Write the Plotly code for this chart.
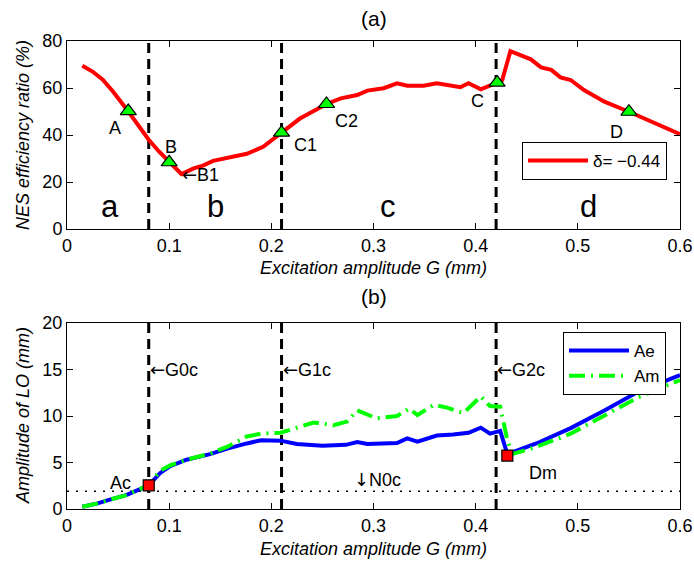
import plotly.graph_objects as go

# ---------------- data ----------------
# panel (a): NES efficiency ratio vs excitation amplitude
G_eff = [0.015, 0.025, 0.035, 0.045, 0.06, 0.07, 0.08, 0.09, 0.1, 0.112, 0.124, 0.133,
         0.143, 0.153, 0.163, 0.176, 0.192, 0.21, 0.228, 0.254, 0.268, 0.284, 0.294,
         0.31, 0.323, 0.333, 0.349, 0.362, 0.375, 0.385, 0.393, 0.405, 0.421, 0.426,
         0.434, 0.454, 0.464, 0.474, 0.483, 0.493, 0.506, 0.526, 0.55, 0.585, 0.6]
eff = [69.5, 67.0, 63.5, 58.5, 50.0, 44.0, 38.0, 33.0, 28.4, 23.4, 25.8, 27.0,
       29.0, 30.0, 31.0, 32.0, 35.0, 41.0, 47.0, 53.2, 55.6, 57.0, 58.9,
       59.9, 62.0, 61.0, 61.0, 62.0, 60.9, 60.3, 62.0, 59.4, 62.3, 63.4,
       75.7, 72.2, 68.8, 67.7, 64.5, 63.4, 59.1, 54.2, 49.9, 43.5, 40.4]

pt_labels = ["A", "B", "C1", "C2", "C", "D"]
pt_G = [0.06, 0.1, 0.21, 0.254, 0.421, 0.55]
pt_eff = [50.2, 28.4, 41.0, 53.2, 62.3, 49.9]
pt_lab_G = [0.047, 0.1017, 0.233, 0.274, 0.402, 0.538]
pt_lab_y = [42.8, 34.8, 35.7, 46.0, 54.6, 41.4]

region_labels = ["a", "b", "c", "d"]
region_G = [0.042, 0.145, 0.314, 0.51]
region_y = [9.4, 9.4, 9.4, 9.4]

B1_G, B1_y = 0.112, 23.4

# critical amplitudes (vertical dashed lines)
G_crit = [0.08, 0.21, 0.42]
G_crit_labels = ["G0c", "G1c", "G2c"]
G_crit_label_y = 15.0

# panel (b): amplitudes of LO
G_ae = [0.015, 0.03, 0.042, 0.058, 0.08, 0.091, 0.101, 0.117, 0.14, 0.157, 0.176, 0.19,
        0.209, 0.225, 0.25, 0.273, 0.284, 0.294, 0.323, 0.333, 0.343, 0.362, 0.378,
        0.393, 0.405, 0.414, 0.424, 0.431, 0.46, 0.493, 0.526, 0.559, 0.6]
ae = [0.25, 0.6, 1.0, 1.5, 2.55, 3.85, 4.6, 5.3, 5.9, 6.5, 7.05, 7.4,
      7.35, 7.0, 6.8, 6.9, 7.2, 7.0, 7.1, 7.6, 7.25, 7.9, 8.0,
      8.2, 8.75, 8.1, 8.4, 5.9, 7.07, 8.7, 10.6, 12.6, 14.4]

G_am = [0.015, 0.03, 0.042, 0.058, 0.08, 0.091, 0.101, 0.117, 0.14, 0.157, 0.176, 0.19,
        0.209, 0.235, 0.2415, 0.261, 0.274, 0.284, 0.303, 0.323, 0.335, 0.343, 0.359,
        0.372, 0.388, 0.405, 0.414, 0.424, 0.431, 0.436, 0.46, 0.493, 0.526, 0.559, 0.6]
am = [0.25, 0.6, 1.0, 1.5, 2.55, 4.1, 4.7, 5.3, 5.95, 6.7, 7.8, 8.1,
      8.2, 9.1, 9.3, 9.0, 9.4, 10.6, 9.75, 10.0, 10.8, 10.1, 11.2,
      10.9, 10.3, 12.1, 11.07, 11.0, 7.4, 5.9, 6.7, 8.1, 10.1, 12.0, 13.86]

sq_labels = ["Ac", "Dm"]
sq_G = [0.08, 0.431]
sq_A = [2.55, 5.75]
sq_lab_G = [0.052, 0.466]
sq_lab_y = [2.85, 3.85]

N0c = 1.9
N0c_label_G = 0.28

x_ticks = [0, 0.1, 0.2, 0.3, 0.4, 0.5, 0.6]
x_ticktext = ["0", "0.1", "0.2", "0.3", "0.4", "0.5", "0.6"]
y1_ticks = [0, 20, 40, 60, 80]
y2_ticks = [0, 5, 10, 15, 20]

x_title = "Excitation amplitude G (mm)"
y1_title = "NES efficiency ratio (%)"
y2_title = "Amplitude of LO (mm)"

# ---------------- figure ----------------
FONT = "Liberation Sans, Arial, Helvetica, sans-serif"
ARROW = '<span style="font-family:DejaVu Sans">{}</span>'
W, H = 694, 565
ML, MR, MT, MB = 67, 14, 41, 56
plot_w = W - ML - MR
plot_h = H - MT - MB

def fx(p):  # page pixel column -> paper fraction
    return (p - ML) / plot_w

def fy(p):  # page pixel row -> paper fraction
    return (H - MB - p) / plot_h

fig = go.Figure()

# panel (a)
fig.add_trace(go.Scatter(x=G_eff, y=eff, mode="lines", name="δ= −0.44",
                         line=dict(color="#ff0000", width=4),
                         xaxis="x", yaxis="y", legend="legend"))
fig.add_trace(go.Scatter(x=pt_G, y=pt_eff, mode="markers", showlegend=False,
                         marker=dict(symbol="triangle-up", size=14, color="#00ff00",
                                     line=dict(color="black", width=1.2)),
                         xaxis="x", yaxis="y"))

# panel (b)
fig.add_trace(go.Scatter(x=G_ae, y=ae, mode="lines", name="Ae",
                         line=dict(color="#0000ff", width=4),
                         xaxis="x2", yaxis="y2", legend="legend2"))
fig.add_trace(go.Scatter(x=G_am, y=am, mode="lines", name="Am",
                         line=dict(color="#00ff00", width=4, dash="16px,6px,2px,6px"),
                         xaxis="x2", yaxis="y2", legend="legend2"))
fig.add_trace(go.Scatter(x=sq_G, y=sq_A, mode="markers", showlegend=False,
                         marker=dict(symbol="square", size=11, color="#ff0000",
                                     line=dict(color="black", width=1.2)),
                         xaxis="x2", yaxis="y2"))

shapes = []
for g in G_crit:
    for xr, yr in (("x", "y domain"), ("x2", "y2 domain")):
        shapes.append(dict(type="line", xref=xr, yref=yr,
                           x0=g, x1=g, y0=0, y1=1, layer="below",
                           line=dict(color="black", width=3, dash="10px,6px")))
shapes.append(dict(type="line", xref="x2 domain", yref="y2", x0=0, x1=1, y0=N0c, y1=N0c,
                   layer="below", line=dict(color="black", width=1.5, dash="2px,7px")))

ann = []
lab_font = dict(family=FONT, size=18, color="black")
for t, gx, gy in zip(pt_labels, pt_lab_G, pt_lab_y):
    ann.append(dict(x=gx, y=gy, xref="x", yref="y", text=t, showarrow=False, font=lab_font))
for t, gx, gy in zip(region_labels, region_G, region_y):
    ann.append(dict(x=gx, y=gy, xref="x", yref="y", text=t, showarrow=False,
                    font=dict(family=FONT, size=31, color="black")))
ann.append(dict(x=B1_G, y=B1_y, xref="x", yref="y", text=ARROW.format("←") + "B1",
                showarrow=False, xanchor="left", font=lab_font, borderpad=0))
for g, t in zip(G_crit, G_crit_labels):
    ann.append(dict(x=g, y=G_crit_label_y, xref="x2", yref="y2",
                    text=ARROW.format("←") + t, showarrow=False,
                    xanchor="left", font=lab_font, borderpad=0))
for t, gx, gy in zip(sq_labels, sq_lab_G, sq_lab_y):
    ann.append(dict(x=gx, y=gy, xref="x2", yref="y2", text=t, showarrow=False, font=lab_font))
ann.append(dict(x=N0c_label_G, y=N0c, xref="x2", yref="y2",
                text=ARROW.format("↓") + "N0c", showarrow=False,
                xanchor="left", yanchor="bottom", font=lab_font, borderpad=0))
# panel titles
for t, yy in (("(a)", 19), ("(b)", 296)):
    ann.append(dict(x=0.5, y=fy(yy), xref="paper", yref="paper", text=t, showarrow=False,
                    xanchor="center", yanchor="middle",
                    font=dict(family=FONT, size=21, color="black")))
# axis titles
for yy in (267.5, 548.5):
    ann.append(dict(x=0.5, y=fy(yy), xref="paper", yref="paper", text="<i>" + x_title + "</i>",
                    showarrow=False, xanchor="center", yanchor="middle", font=lab_font))
for t, yy in ((y1_title, 135), (y2_title, 416)):
    ann.append(dict(x=fx(23), y=fy(yy), xref="paper", yref="paper", text="<i>" + t + "</i>",
                    showarrow=False, textangle=-90, xanchor="center", yanchor="middle",
                    font=lab_font))

axis_common = dict(showline=True, linecolor="black", linewidth=1, mirror="allticks",
                   ticks="inside", ticklen=6, tickcolor="black", showgrid=False,
                   zeroline=False, automargin=False,
                   tickfont=dict(family=FONT, size=18, color="black"))

fig.update_layout(
    template="none",
    width=W, height=H, autosize=False,
    margin=dict(l=ML, r=MR, t=MT, b=MB),
    paper_bgcolor="white", plot_bgcolor="white",
    font=dict(family=FONT, size=18, color="black"),
    shapes=shapes, annotations=ann,
    xaxis=dict(domain=[0, 1], anchor="y", range=[0, 0.6], tickvals=x_ticks,
               ticktext=x_ticktext, **axis_common),
    yaxis=dict(domain=[fy(229), 1], anchor="x", range=[0, 80], tickvals=y1_ticks,
               **axis_common),
    xaxis2=dict(domain=[0, 1], anchor="y2", range=[0, 0.6], tickvals=x_ticks,
                ticktext=x_ticktext, **axis_common),
    yaxis2=dict(domain=[0, fy(323)], anchor="x2", range=[0, 20], tickvals=y2_ticks,
                **axis_common),
    legend=dict(x=fx(522), y=fy(142), xanchor="left", yanchor="top",
                bgcolor="white", bordercolor="black", borderwidth=1, itemwidth=60,
                font=dict(family=FONT, size=17)),
    legend2=dict(x=fx(563), y=fy(332), xanchor="left", yanchor="top",
                 bgcolor="white", bordercolor="black", borderwidth=1, itemwidth=60,
                 font=dict(family=FONT, size=17), tracegroupgap=0),
    showlegend=True,
)

fig.write_html("out.html",
               config={"displayModeBar": False},
               post_script="document.body.style.margin='0';"
                           "document.body.style.overflow='hidden';")
